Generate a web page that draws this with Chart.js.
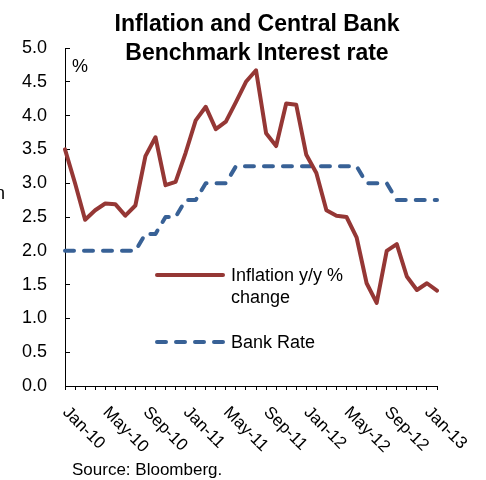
<!DOCTYPE html>
<html lang="en">
  <head>
    <meta charset="UTF-8" />
    <title>Inflation and Central Bank Benchmark Interest rate</title>
    <script src="https://cdn.jsdelivr.net/npm/chart.js"></script>
    <style>
      body { margin: 0; background: #fff; }
    </style>
  </head>
  <body>
    <canvas id="rateChart" width="486" height="480"></canvas>
    <script>
      const months = [
        'Jan-10', 'Feb-10', 'Mar-10', 'Apr-10', 'May-10', 'Jun-10', 'Jul-10', 'Aug-10',
        'Sep-10', 'Oct-10', 'Nov-10', 'Dec-10', 'Jan-11', 'Feb-11', 'Mar-11', 'Apr-11',
        'May-11', 'Jun-11', 'Jul-11', 'Aug-11', 'Sep-11', 'Oct-11', 'Nov-11', 'Dec-11',
        'Jan-12', 'Feb-12', 'Mar-12', 'Apr-12', 'May-12', 'Jun-12', 'Jul-12', 'Aug-12',
        'Sep-12', 'Oct-12', 'Nov-12', 'Dec-12', 'Jan-13', 'Feb-13'
      ];

      const inflation = [
        3.5, 3.0, 2.46, 2.6, 2.7, 2.69, 2.52, 2.67,
        3.4, 3.68, 2.97, 3.02, 3.45, 3.93, 4.13, 3.8,
        3.91, 4.2, 4.5, 4.67, 3.74, 3.55, 4.18, 4.16,
        3.42, 3.15, 2.6, 2.52, 2.5, 2.2, 1.52, 1.23,
        2.0, 2.1, 1.62, 1.42, 1.52, 1.41
      ];

      const bankRate = [
        2.0, 2.0, 2.0, 2.0, 2.0, 2.0, 2.0, 2.0,
        2.25, 2.25, 2.5, 2.5, 2.75, 2.75, 3.0, 3.0,
        3.0, 3.25, 3.25, 3.25, 3.25, 3.25, 3.25, 3.25,
        3.25, 3.25, 3.25, 3.25, 3.25, 3.25, 3.0, 3.0,
        3.0, 2.75, 2.75, 2.75, 2.75, 2.75
      ];

      const yTicks = [0, 0.5, 1, 1.5, 2, 2.5, 3, 3.5, 4, 4.5, 5];
      const labelEvery = 4;

      const titleLines = ['Inflation and Central Bank', 'Benchmark Interest rate'];
      const legendLabels = [['Inflation y/y %', 'change'], ['Bank Rate']];
      const unitLabel = '%';
      const sourceNote = 'Source: Bloomberg.';

      const FONT = '"Liberation Sans", Arial, sans-serif';

      // draws the rotated month labels, title, in-plot legend and notes
      const overlay = {
        id: 'overlay',
        afterDraw: (chart) => {
          const ctx = chart.ctx;
          const xs = chart.scales.x;
          const area = chart.chartArea;
          ctx.save();
          ctx.fillStyle = '#000';

          ctx.font = '17px ' + FONT;
          ctx.textAlign = 'left';
          ctx.textBaseline = 'alphabetic';
          months.forEach((m, i) => {
            if (i % labelEvery) return;
            ctx.save();
            ctx.translate(xs.getPixelForValue(i) - 3, area.bottom + 27);
            ctx.rotate(Math.PI / 4);
            ctx.fillText(m, 0, 0);
            ctx.restore();
          });

          ctx.textAlign = 'center';
          ctx.font = 'bold 23px ' + FONT;
          titleLines.forEach((t, i) => ctx.fillText(t, 257, 31 + i * 28.5));

          ctx.textAlign = 'left';
          ctx.font = '18px ' + FONT;
          ctx.fillText(unitLabel, 72, 71.5);
          ctx.fillText('n', -5, 199);

          const legendY = [275, 342];
          chart.data.datasets.forEach((ds, i) => {
            const y = legendY[i];
            ctx.save();
            ctx.strokeStyle = ds.borderColor;
            ctx.lineWidth = ds.borderWidth;
            ctx.lineCap = ds.borderCapStyle || 'butt';
            ctx.setLineDash(ds.borderDash || []);
            ctx.beginPath();
            ctx.moveTo(157, y);
            ctx.lineTo(223, y);
            ctx.stroke();
            ctx.restore();
            legendLabels[i].forEach((t, j) => ctx.fillText(t, 231, y + 6 + j * 22));
          });

          ctx.font = '17px ' + FONT;
          ctx.fillText(sourceNote, 72, 475);
          ctx.restore();
        },
      };

      const config = {
        type: 'line',
        data: {
          labels: months,
          datasets: [
            {
              label: 'Inflation y/y % change',
              data: inflation,
              borderColor: '#953735',
              borderWidth: 4,
              borderCapStyle: 'round',
              borderJoinStyle: 'round',
            },
            {
              label: 'Bank Rate',
              data: bankRate,
              borderColor: '#386196',
              borderWidth: 4,
              borderDash: [9, 10],
              borderCapStyle: 'round',
              borderJoinStyle: 'round',
            },
          ],
        },
        options: {
          responsive: false,
          animation: false,
          layout: { padding: { top: 48, right: 49, left: 0, bottom: 0 } },
          elements: { point: { radius: 0 }, line: { tension: 0 } },
          plugins: {
            legend: { display: false },
            tooltip: { enabled: false },
          },
          scales: {
            x: {
              offset: false,
              ticks: { display: false, autoSkip: false },
              grid: { drawOnChartArea: false, color: '#000', tickLength: 4 },
              border: { color: '#000', width: 1 },
              afterFit: (s) => { s.height = 94; },
            },
            y: {
              min: 0,
              max: 5,
              afterBuildTicks: (s) => { s.ticks = yTicks.map((v) => ({ value: v })); },
              ticks: {
                callback: (v) => Number(v).toFixed(1),
                color: '#000',
                font: { family: FONT, size: 18 },
                padding: 23,
              },
              grid: { drawOnChartArea: false, color: '#000', tickLength: -5 },
              border: { color: '#000', width: 1 },
              afterFit: (s) => { s.width = 65; },
            },
          },
        },
        plugins: [overlay],
      };

      new Chart(document.getElementById('rateChart'), config);
    </script>
  </body>
</html>
